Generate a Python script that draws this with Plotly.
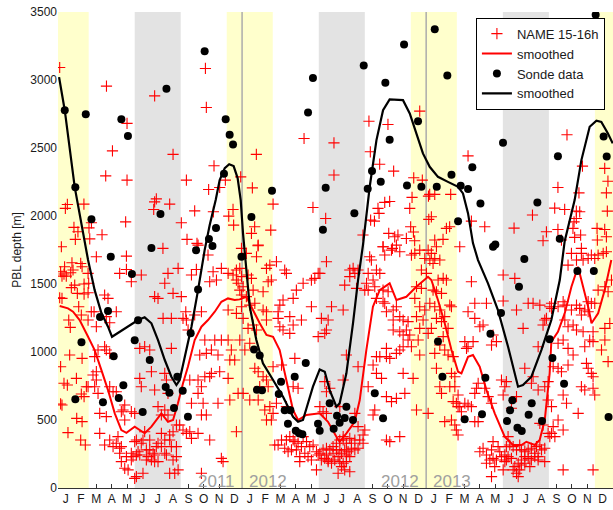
import plotly.graph_objects as go

# x = months since 1 Jan 2011 (0..36), y = PBL depth [m]
month_letters = ["J", "F", "M", "A", "M", "J", "J", "A", "S", "O", "N", "D"] * 3
y_ticks = [0, 500, 1000, 1500, 2000, 2500, 3000, 3500]

winter_bands = [(0, 2), (11, 14), (23, 26), (35, 37)]
summer_bands = [(5, 8), (17, 20), (29, 32)]
year_breaks = [12, 24]
year_labels = [("2011", "2012"), ("2012", "2013")]

name_2011 = [
    (0.17,1590),(0.39,1573),(0.54,1558),(0.83,1583),(0.98,1603),(0.43,1627),(0.91,1656),(1.48,1651),(1.57,1627),(1.96,1578),
    (0.26,1558),(1.09,1492),(0.87,1473),(1.70,1500),(2.0,1505),(1.26,1431),(1.70,1426),(1.96,1436),(0.11,1399),(0.26,1394),
    (0.70,1235),(0.80,1181),(1.35,1333),(1.52,1272),(1.96,1235),(2.35,1296),(0.76,978),(1.57,953),(0.17,892),(0.39,770),
    (0.61,757),(1.20,806),(1.85,745),(1.52,691),(1.70,672),(0.17,618),(0.26,610),(1.22,512),(1.57,488),(0.65,407),(1.48,353),(1.78,316),
    (0.11,3092),(0.61,2085),(0.48,2056),(1.69,2087),(1.04,1916),(1.30,1884),(2.02,1913),(2.18,1950),(1.13,1828),(2.07,1832),
    (0.22,1774),(2.87,1862),(4.41,1957),(3.16,2955),(4.50,2681),(3.55,2479),(3.11,2295),(4.50,2264),
    (2.5,1700),(3.04,1419),(3.26,1394),(2.17,1296),(3.15,1260),(3.37,1215),(3.80,1296),(2.5,1186),(3.04,1039),(3.15,1015),
    (3.37,990),(2.39,966),(2.61,1015),(2.5,855),(2.28,831),(1.96,745),(2.5,794),(2.39,745),(2.61,696),(3.37,745),(4.35,610),
    (4.24,574),(4.78,561),(5.0,549),(4.13,561),(4.35,500),(3.59,708),(3.80,708),(2.72,549),(3.15,525),(2.72,402),(3.04,316),
    (3.37,353),(3.59,304),(3.91,378),(3.80,329),(4.02,292),(4.13,304),(4.46,231),(4.13,194),(4.02,255),(4.35,145),(4.57,133),
    (4.78,255),(4.89,231),(5.0,341),(5.11,84),(4.46,1705),(4.46,1607),(4.78,1517),(4.02,1578),
    (5.43,1566),(6.96,1505),(7.17,1578),(7.83,1615),(7.5,1431),(8.04,1407),(6.30,1407),(6.52,1394),(6.85,1247),(7.39,1247),
    (5.98,1015),(5.65,1039),(5.33,1027),(5.43,745),(5.33,806),(6.09,855),(6.30,721),(6.96,843),(7.07,794),(7.39,1027),
    (7.17,696),(6.52,598),(6.96,574),(6.74,537),(7.17,537),(5.11,353),(5.43,329),(5.22,267),(5.54,353),(5.76,280),(5.98,280),
    (6.20,255),(6.30,243),(5.87,231),(6.09,206),(6.41,304),(6.74,304),(6.96,353),(7.28,353),(7.39,304),(6.96,255),(7.5,206),
    (7.72,231),(7.72,304),(6.52,194),(5.0,71),(5.54,108),(7.28,108),(7.61,108),(7.83,133),(7.07,243),(6.74,402),(7.28,390),
    (4.78,206),(5.33,243),(5.76,206),(6.30,194),(5.11,243),(5.65,414),(6.52,329),(5.98,353),(7.5,414),(7.72,463),
    (6.30,2883),(7.50,2453),(6.41,2126),(6.30,2104),(7.28,2087),(6.24,2048),(8.04,1950),(6.84,1762),
    (8.33,1296),(8.15,1247),(8.37,1235),(8.70,1566),(9.02,1607),(9.13,1786),(9.78,1713),(10.11,1590),(9.89,1517),(10.65,1615),
    (10.33,1529),(9.35,1296),(8.91,1272),(8.48,1162),(9.57,1088),(10.22,1088),(10.0,1015),(10.65,1088),(11.09,1088),(9.24,978),
    (9.67,990),(10.43,978),(8.59,794),(9.13,794),(9.35,745),(9.57,818),(9.89,818),(10.54,855),(10.0,843),(9.13,696),(8.70,623),
    (9.46,623),(9.67,537),(9.35,537),(10.43,623),(11.2,647),(7.93,463),(8.15,427),(8.37,402),(8.59,414),(8.70,365),(9.13,402),
    (9.89,353),(10.65,218),(10.76,194),(9.35,108),
    (8.37,2264),(8.41,1828),(8.91,2038),(9.06,1799),(9.61,3085),(9.67,2798),(10.17,2369),(9.82,2195),(10.54,2210),(10.13,2031),(10.91,2264),
    (11.09,1578),(11.41,1566),(11.63,1603),(11.85,1615),(11.63,1529),(11.74,1505),(11.85,1455),(11.09,1309),(11.63,1284),(11.96,1333),
    (11.3,1015),(11.85,1088),(11.2,941),(11.52,941),(11.09,806),(11.74,696),(11.63,414),(11.41,2048),(11.13,1999),(11.45,1933),(11.91,2288),
]

name_2012 = [
    (11.96,1762),(12.28,1725),(13.05,1786),(12.94,1700),(11.96,1554),(12.07,1480),(12.39,1566),(12.61,1541),(11.96,1419),(12.28,1407),
    (12.72,1455),(12.50,1345),(12.83,1358),(13.37,1443),(13.59,1615),(13.81,1639),(13.70,1517),(13.91,1529),(13.37,1309),(13.59,1296),
    (12.07,1247),(12.39,1174),(12.72,1198),(12.94,1162),(13.59,1235),(12.18,1015),(12.50,1064),(12.83,880),(13.05,855),(13.37,818),
    (13.59,794),(13.15,745),(13.70,745),(14.02,892),(12.07,696),(12.50,647),(13.05,647),(13.48,574),(13.81,598),(13.59,500),(13.91,500),(14.02,549),
    (14.24,1664),(14.78,1603),(14.89,1578),(15.54,1455),(15.98,1505),(16.52,1529),(16.74,1541),(16.96,1578),(15.33,1394),(14.67,1382),
    (14.46,1345),(14.35,1296),(14.35,1247),(14.46,1186),(15.11,1260),(15.33,1198),(15.87,1235),(16.52,1333),(14.67,1162),(15.11,1137),
    (16.96,1113),(15.44,953),(14.57,904),(15.33,745),(15.65,733),(14.24,623),(14.89,598),(14.13,316),(14.35,316),(14.57,353),
    (14.89,353),(15.11,378),(15.33,353),(14.78,292),(15.0,267),(15.22,280),(15.44,341),(15.65,329),(15.87,304),(15.98,378),
    (16.20,341),(16.41,304),(16.63,316),(15.54,280),(15.76,231),(16.09,255),(16.30,231),(16.52,206),(16.85,267),(16.96,243),(16.85,133),(15.76,194),
    (17.50,1664),(17.07,1578),(17.17,1247),(17.61,1235),(17.39,1137),(17.83,1333),(17.50,1162),(19.02,1603),(19.24,1615),(19.35,1578),
    (19.56,1603),(18.69,1492),(19.02,1554),(19.46,1468),(20.0,1455),(18.59,1309),(17.72,733),(17.50,708),(17.39,782),(19.56,892),
    (18.80,978),(18.59,794),(17.07,598),(17.28,561),(17.50,549),(18.37,598),(19.35,549),(20.0,427),(19.89,390),(19.56,451),
    (19.67,353),(19.89,329),(19.35,353),(19.02,365),(18.80,329),(18.59,378),(18.37,353),(18.15,329),(17.93,304),(17.72,280),
    (17.50,292),(17.28,280),(17.07,255),(17.17,206),(17.39,218),(17.61,194),(17.83,182),(18.04,206),(18.26,231),(18.48,255),
    (18.69,280),(18.91,267),(19.13,292),(18.37,194),(18.59,182),(18.80,194),(18.48,157),(18.69,133),(18.26,108),(19.02,120),
    (17.61,206),(17.93,255),(18.80,243),(19.02,231),(17.50,243),(18.37,280),(19.35,280),(19.56,292),(19.13,329),(18.59,353),(18.15,280),
    (20.32,1700),(20.43,1676),(20.22,1578),(20.76,1603),(20.98,1578),(20.54,1529),(20.11,1505),(20.22,1455),(20.65,1480),(21.19,1455),
    (21.52,1443),(21.19,1370),(21.30,1358),(20.76,1394),(21.41,1296),(21.85,1309),(22.06,1333),(22.28,1260),(22.50,1235),(22.82,1223),
    (21.85,1235),(21.85,1162),(22.28,1149),(22.71,1162),(22.50,1125),(22.93,1125),(22.82,1088),(23.04,1039),(22.50,1039),(22.28,1015),
    (21.41,1027),(20.98,966),(20.76,966),(21.41,966),(21.63,953),(22.06,990),(20.54,904),(20.22,745),(20.76,843),(21.09,806),
    (21.41,672),(21.74,635),(22.06,659),(22.61,696),(22.50,843),(23.15,806),(20.65,574),(20.54,537),(21.41,353),(21.63,341),(22.28,378),
    (21.19,1774),(21.30,1713),(21.74,1749),(22.28,1737),(22.06,1786),(23.04,1713),
    (23.26,1725),(23.58,1749),(23.91,1688),(23.69,1603),(23.37,1480),(23.69,1468),(23.26,1394),(23.58,1333),(23.91,1309),(23.37,1260),
    (23.80,1235),(23.58,1174),(23.48,1088),(23.58,978),(23.37,574),
    (12.93,2453),(12.67,2207),(14.02,2087),(13.87,1896),(13.04,1781),(12.82,1921),(12.61,1872),(16.04,2570),(17.99,2538),(17.99,2301),
    (16.62,2063),(17.45,1982),(20.27,2697),(20.36,2472),(21.51,2673),(20.97,2381),(21.88,2330),(21.30,2100),(21.62,2107),(20.86,2056),
    (20.93,2019),(20.38,1970),(20.63,1962),(19.88,1860),(21.56,1872),(21.95,1847),(22.16,1860),(22.71,1835),(22.93,2056),(23.08,2137),
    (23.19,2281),(23.58,2771),(23.75,2264),(24.15,2146),(22.99,1921),(23.17,1882),(23.25,1818),(21.19,1774),(21.80,1762),
]

name_2013 = [
    (24.13,1749),(24.34,1725),(24.56,1688),(24.89,1676),(24.67,1774),(24.24,1676),(24.45,1651),(24.02,1578),(24.78,1529),(25.11,1541),
    (25.32,1529),(24.45,1455),(24.67,1443),(25.0,1431),(24.24,1358),(24.56,1333),(24.89,1309),(25.21,1260),(25.54,1345),(25.65,1333),
    (24.67,1247),(25.0,1223),(25.43,1174),(24.34,1174),(24.13,1137),(25.11,1113),(24.89,1051),(25.21,1015),(24.56,990),(25.43,978),
    (25.76,966),(25.65,843),(24.67,880),(24.89,745),(25.54,745),(25.87,745),(25.87,818),(25.0,696),(26.08,684),(25.76,635),
    (25.97,623),(26.08,598),(25.21,488),(25.65,500),(25.87,463),(25.97,427),(26.08,390),(24.13,549),
    (26.95,1517),(27.17,1358),(27.93,1358),(26.73,1296),(29.02,1375),(27.17,1247),(27.50,1186),(27.71,1198),(26.52,1076),(26.73,1039),
    (27.06,1076),(26.63,1027),(28.36,1125),(28.58,1076),(28.26,1051),(27.39,770),(27.28,733),(27.17,696),(27.82,733),(28.04,672),
    (28.26,623),(26.52,623),(26.73,610),(26.19,598),(26.30,561),(26.95,598),(27.17,488),(27.39,488),(28.36,341),(27.71,292),
    (27.50,267),(28.26,280),(27.93,243),(28.69,304),(28.80,267),(28.91,231),(29.13,243),(28.58,206),(28.36,218),(28.15,206),
    (28.47,157),(27.93,182),(29.02,133),(28.26,84),(28.91,794),(29.02,684),
    (29.02,1566),(29.78,1541),(29.89,1309),(30.32,1174),(30.65,1358),(30.97,1358),(31.41,1345),(31.73,1235),(31.62,1198),(31.84,1247),
    (32.06,1333),(32.17,1321),(31.30,1039),(30.97,818),(30.86,770),(31.95,782),(31.73,745),(31.30,721),(31.95,647),(30.43,880),
    (29.23,782),(29.13,745),(29.89,672),(29.56,586),(31.41,475),(31.62,463),(31.95,402),(32.06,378),(32.17,402),(29.34,378),
    (29.23,304),(29.45,316),(29.67,304),(29.89,280),(30.10,316),(30.21,280),(30.43,267),(30.65,280),(30.86,292),(31.19,304),
    (31.41,316),(31.52,280),(31.73,292),(31.08,255),(31.30,231),(30.43,231),(30.21,206),(30.00,182),(29.78,157),(29.56,218),
    (29.34,231),(29.23,206),(29.13,194),(29.89,108),(30.00,84),(30.10,133),(30.21,169),(30.65,218),(30.86,206),(31.30,206),
    (31.73,194),(29.67,133),(30.43,182),(30.76,157),(31.08,231),
    (32.17,1358),(32.60,1333),(32.93,1370),(33.04,1345),(33.47,1309),(33.80,1345),(34.01,1321),(34.34,1309),(34.56,1370),(34.77,1358),
    (34.99,1358),(34.12,1272),(34.56,1296),(33.04,1235),(33.25,1186),(33.58,1198),(33.80,1162),(34.23,1149),(34.88,1149),(34.66,1088),
    (34.34,1039),(34.88,1076),(32.60,1064),(32.93,1088),(33.25,1027),(32.28,892),(32.60,880),(32.82,855),(33.25,904),(33.58,978),
    (34.45,916),(34.56,880),(34.77,843),(34.88,818),(34.12,745),(34.34,721),(34.88,733),(34.99,684),(33.91,549),(32.93,684),
    (33.15,623),(32.17,598),(32.60,500),(32.93,427),(32.28,451),(32.39,378),(32.93,133),(34.88,133),
    (34.12,1725),(34.23,1676),(33.80,1676),(33.25,1639),(33.47,1725),(34.56,1688),(34.77,1713),(34.99,1688),
    (35.21,1713),(35.54,1725),(35.75,1737),(35.21,1455),(35.65,1480),(35.86,1443),(36.08,1529),(35.65,1174),(35.97,1210),(35.65,1088),
    (35.43,1015),(35.86,929),
    (26.73,2442),(25.60,2159),(24.23,2159),(24.56,2159),(24.34,1994),(24.17,1975),(25.53,1921),(25.32,1909),(25.10,1828),(24.56,1823),
    (27.82,1921),(26.95,1962),(29.73,1911),(30.93,2007),(31.84,1884),(31.62,1818),(33.62,2820),(33.18,2597),(34.19,2367),(32.59,2210),
    (33.96,2170),(32.38,2058),(33.03,2048),(33.79,2036),(34.01,2031),(33.79,1982),(33.64,1957),(32.59,1901),(33.57,1909),(34.07,1860),
    (33.68,1843),(32.82,1823),(35.64,2350),(35.85,2256),(35.75,2170),(35.81,2036),(35.64,1901),(35.14,1909),(35.16,1823),(35.75,1847),
    (26.19,1774),(34.12,1762),
]

name_smooth_m = [0.11,0.65,0.98,1.41,1.96,2.39,2.83,3.26,3.70,4.13,4.46,5.0,5.65,6.09,6.74,7.17,7.50,7.82,8.15,8.47,8.91,9.35,9.78,
                 10.22,10.65,11.08,11.52,11.84,12.28,12.71,13.15,13.59,14.02,14.45,14.89,15.32,15.65,16.19,17.06,17.60,18.15,18.36,
                 18.80,19.34,19.67,20.10,20.53,20.97,21.62,22.06,22.71,23.36,24.12,24.34,24.77,25.21,25.65,26.08,26.30,26.73,27.05,
                 27.49,27.93,28.47,29.12,29.66,30.21,30.53,31.08,31.40,31.73,32.05,32.16,32.59,33.03,33.47,33.90,34.12,34.56,34.78,
                 35.21,35.64,36.07]
name_smooth_v = [1338,1321,1296,1235,1112,1014,867,720,549,426,406,451,402,451,549,487,500,623,770,892,1088,1186,1235,
                 1296,1369,1394,1382,1387,1406,1308,1211,1125,1112,1014,794,573,500,537,549,487,377,340,
                 402,487,647,1014,1333,1455,1505,1382,1406,1480,1553,1529,1382,1211,1014,855,843,965,978,
                 892,720,549,377,316,316,340,316,353,500,843,1075,1149,1284,1480,1627,1529,1333,1211,
                 1284,1455,1676]

sonde_m = [0.44,1.81,1.13,2.18,4.13,4.56,7.07,6.68,6.09,9.56,10.93,11.19,11.41,10.82,10.30,9.84,10.07,9.00,3.44,4.82,
           11.96,3.26,2.74,5.22,5.0,1.53,3.63,5.98,7.78,4.26,7.02,7.26,1.13,3.96,2.93,5.52,7.56,8.47,9.13,8.65,8.13,
           22.56,19.93,16.62,21.34,16.30,23.47,21.62,13.95,23.69,17.45,22.75,21.04,20.47,20.19,12.61,19.32,17.27,
           12.78,13.15,12.97,13.30,14.39,14.54,16.15,15.43,14.78,15.15,14.99,15.50,15.71,15.93,16.95,17.06,17.71,18.19,
           18.36,17.97,18.69,18.80,19.23,20.65,21.19,
           24.56,25.38,35.05,29.01,27.01,25.65,24.69,26.25,26.73,32.59,31.25,27.54,26.08,35.57,35.77,28.36,28.51,32.71,
           30.40,30.05,28.88,28.19,24.77,25.06,27.86,27.64,26.51,29.62,29.47,29.27,30.88,30.68,29.95,30.23,31.55,32.05,
           32.23,32.99,33.86,34.93,35.89]
sonde_v = [2778,2749,2212,1977,2712,2589,2935,2014,1764,3212,2712,2597,2526,2310,1911,1830,1779,1749,1700,1573,
           1700,1301,1257,1233,1086,1071,968,941,818,755,742,700,652,661,630,559,588,524,1460,1137,715,
           3261,3107,3014,2979,2761,2697,2560,2185,2215,2207,2225,2251,2330,2200,1992,2021,1899,
           1019,975,722,718,691,781,919,818,571,571,473,421,402,395,473,421,623,531,
           480,436,515,598,500,696,512,
           3374,3033,3479,2538,2359,2303,2215,2222,2198,2440,2100,2092,1962,2585,2438,1774,1791,1832,
           1683,1480,1286,1134,1078,818,811,542,505,645,571,492,623,539,443,419,492,1093,
           956,767,1595,1595,522]

sonde_smooth_m = [0.07,0.44,1.09,1.69,1.96,2.39,2.83,3.26,3.52,3.70,4.35,5.22,5.65,6.09,6.52,6.96,7.39,7.72,7.93,8.26,
                  8.70,9.13,9.56,9.89,10.28,10.54,10.87,11.16,11.45,11.71,11.91,12.06,12.28,12.50,12.93,13.36,14.02,
                  14.67,15.32,15.65,15.97,16.62,17.06,17.39,17.71,18.15,18.36,18.80,19.23,19.56,19.88,20.32,20.76,
                  21.19,21.62,22.49,22.93,23.36,23.79,24.23,24.77,25.42,26.08,26.40,26.73,27.05,27.38,28.03,28.68,
                  29.34,29.99,30.31,30.86,31.51,32.16,32.71,33.03,33.68,34.12,34.66,35.10,35.42,35.85,36.16]
sonde_smooth_v = [3021,2778,2212,1823,1676,1455,1286,1186,1112,1125,1174,1235,1255,1211,1088,941,818,757,794,965,
                  1186,1455,1749,1933,2117,2264,2352,2381,2367,2279,2117,1874,1578,1333,1088,917,794,
                  671,524,487,500,745,872,855,720,598,623,843,1211,1529,1786,2215,2558,
                  2778,2857,2852,2754,2607,2460,2362,2288,2251,2215,2166,2019,1801,1676,1505,1308,
                  1039,745,757,818,1014,1235,1529,1815,2117,2411,2656,2700,2692,2607,2534]

Y_TOP = 3500
FONT = "Liberation Sans, Arial, sans-serif"

fig = go.Figure()

for a, b in winter_bands:
    fig.add_trace(go.Scatter(x=[a, b, b, a, a], y=[0, 0, Y_TOP, Y_TOP, 0], mode="lines", fill="toself",
                             fillcolor="#ffffcc", line=dict(width=0), showlegend=False, hoverinfo="skip"))
for a, b in summer_bands:
    fig.add_trace(go.Scatter(x=[a, b, b, a, a], y=[0, 0, Y_TOP, Y_TOP, 0], mode="lines", fill="toself",
                             fillcolor="#e3e3e3", line=dict(width=0), showlegend=False, hoverinfo="skip"))
for xb in year_breaks:
    fig.add_trace(go.Scatter(x=[xb, xb], y=[0, Y_TOP], mode="lines", line=dict(color="#acacac", width=1.5),
                             showlegend=False, hoverinfo="skip"))

all_name = name_2011 + name_2012 + name_2013
fig.add_trace(go.Scatter(x=[p[0] for p in all_name], y=[p[1] for p in all_name], mode="markers",
                         name="NAME 15-16h",
                         marker=dict(symbol="cross-thin", size=8, color="#ff0000",
                                     line=dict(width=1.1, color="#ff0000"))))
fig.add_trace(go.Scatter(x=name_smooth_m, y=name_smooth_v, mode="lines", name="smoothed",
                         line=dict(color="#ff0000", width=2)))
fig.add_trace(go.Scatter(x=sonde_m, y=sonde_v, mode="markers", name="Sonde data",
                         marker=dict(symbol="circle", size=8, color="#000000")))
fig.add_trace(go.Scatter(x=sonde_smooth_m, y=sonde_smooth_v, mode="lines", name="smoothed",
                         line=dict(color="#000000", width=2.2)))

for xb, (left, right) in zip(year_breaks, year_labels):
    fig.add_annotation(x=xb, y=50, text=left, showarrow=False, xanchor="right", yanchor="middle", xshift=-5,
                       font=dict(size=17, color="#a0a0a0", family=FONT))
    fig.add_annotation(x=xb, y=50, text=right, showarrow=False, xanchor="left", yanchor="middle", xshift=5,
                       font=dict(size=17, color="#a0a0a0", family=FONT))

fig.update_layout(
    width=613, height=510,
    margin=dict(l=58, r=0, t=12, b=22),
    paper_bgcolor="white", plot_bgcolor="white",
    font=dict(family=FONT, size=12, color="#1a1a1a"),
    showlegend=True,
    legend=dict(x=0.753, y=0.988, xanchor="left", yanchor="top", bgcolor="white",
                bordercolor="#000000", borderwidth=1, font=dict(size=13, color="#1a1a1a"),
                tracegroupgap=0),
    xaxis=dict(range=[0, 36.18], tickvals=[i + 0.5 for i in range(36)], ticktext=month_letters,
               ticks="inside", ticklen=4, tickcolor="#333333", showline=True, linecolor="#333333",
               linewidth=1, showgrid=False, zeroline=False, layer="below traces",
               tickfont=dict(size=12, color="#1a1a1a")),
    yaxis=dict(range=[0, Y_TOP], tickvals=y_ticks, ticks="", showline=False, showgrid=False,
               zeroline=False, layer="below traces", tickfont=dict(size=12, color="#1a1a1a"),
               title=dict(text="PBL depth [m]", font=dict(size=12, color="#1a1a1a"), standoff=6)),
)

fig.write_html("out.html")
